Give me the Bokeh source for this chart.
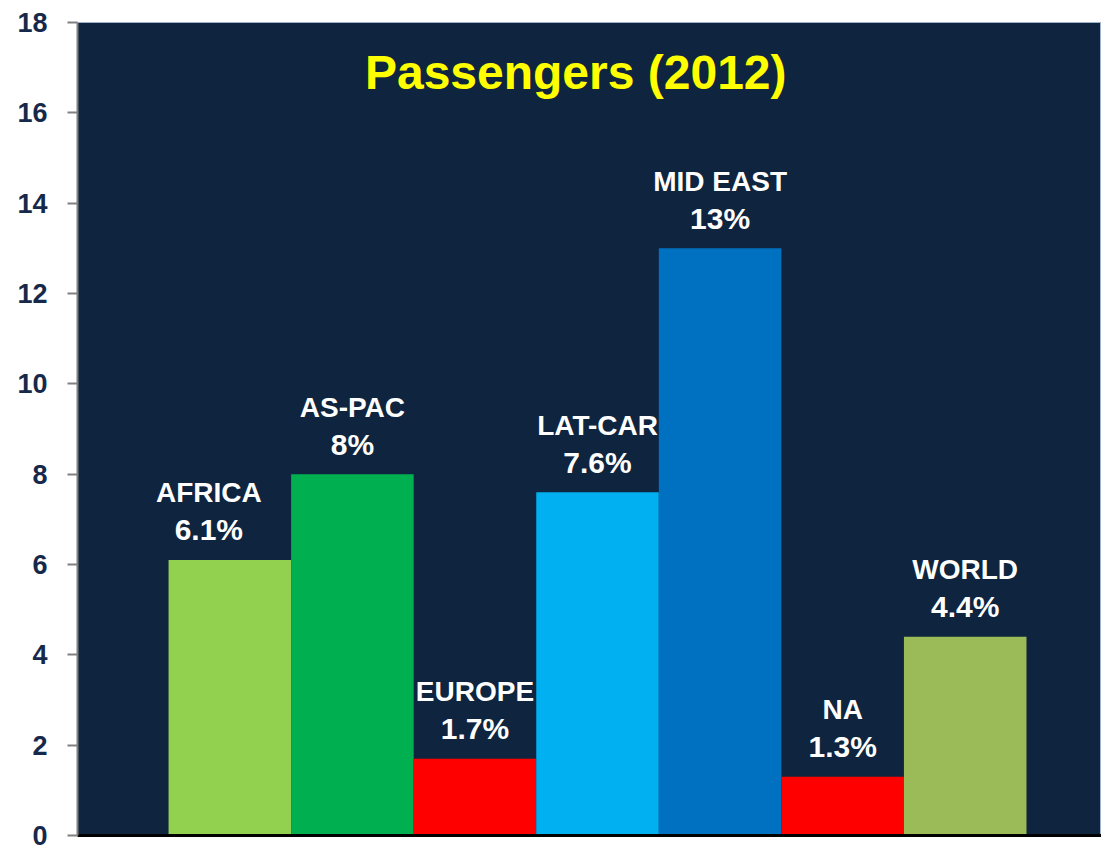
from bokeh.plotting import figure
from bokeh.models import ColumnDataSource, Label, FixedTicker
from bokeh.core.properties import value
from bokeh.embed import file_html
from bokeh.resources import INLINE

regions = ["AFRICA", "AS-PAC", "EUROPE", "LAT-CAR", "MID EAST", "NA", "WORLD"]
growth = [6.1, 8, 1.7, 7.6, 13, 1.3, 4.4]
value_labels = ["6.1%", "8%", "1.7%", "7.6%", "13%", "1.3%", "4.4%"]
colors = ["#92D050", "#00B050", "#FF0000", "#00B0F0", "#0070C0", "#FF0000", "#9BBB59"]
y_ticks = [0, 2, 4, 6, 8, 10, 12, 14, 16, 18]
title_text = "Passengers (2012)"

label_dx = [-21, 0, 0, 0, 0, 0, 0]

src = ColumnDataSource(dict(
    x=list(range(len(regions))),
    top=growth,
    name=regions,
    vlab=value_labels,
    color=colors,
    dx=label_dx,
))

FONT = "Liberation Sans"

p = figure(width=1101, height=851, output_backend="svg", toolbar_location=None,
           x_range=(-1.243, 7.112), y_range=(0, 18),
           min_border_left=77, min_border_right=0, min_border_top=22, min_border_bottom=16)

p.background_fill_color = "#0F243E"
p.border_fill_color = "white"
p.outline_line_color = "#9FB3CF"
p.outline_line_width = 1
p.xgrid.visible = False
p.ygrid.visible = False

p.vbar(x="x", top="top", bottom=0, width=1.0, fill_color="color", line_color=None, source=src)

p.text(x="x", y="top", text="vlab", source=src, x_offset="dx", y_offset=-30,
       text_align="center", text_baseline="alphabetic",
       text_color="white", text_font=value(FONT), text_font_style="bold",
       text_font_size="30px")
p.text(x="x", y="top", text="name", source=src, x_offset="dx", y_offset=-67,
       text_align="center", text_baseline="alphabetic",
       text_color="white", text_font=value(FONT), text_font_style="bold",
       text_font_size="28px")

p.add_layout(Label(x=2.822, y=16.9, text=title_text, text_align="center",
                   text_baseline="alphabetic", text_color="#FFFF00",
                   text_font=FONT, text_font_style="bold", text_font_size="48px"))

# y axis
p.yaxis.ticker = FixedTicker(ticks=y_ticks)
p.yaxis.minor_tick_line_color = None
p.yaxis.axis_line_color = "#808080"
p.yaxis.axis_line_width = 2
p.yaxis.major_tick_line_color = "#808080"
p.yaxis.major_tick_line_width = 2
p.yaxis.major_tick_out = 10
p.yaxis.major_tick_in = 0
p.yaxis.major_label_standoff = 20
p.yaxis.major_label_text_font = FONT
p.yaxis.major_label_text_font_style = "bold"
p.yaxis.major_label_text_font_size = "27px"
p.yaxis.major_label_text_color = "#17294A"

# x axis: only the black base line
p.xaxis.ticker = FixedTicker(ticks=[])
p.xaxis.axis_line_color = "black"
p.xaxis.axis_line_width = 3
p.xaxis.major_tick_out = 0
p.xaxis.major_tick_in = 0
p.xaxis.minor_tick_line_color = None
p.xaxis.major_label_standoff = 0
p.xaxis.major_label_text_font_size = "0px"

open("out.html", "w").write(file_html(p, INLINE))
